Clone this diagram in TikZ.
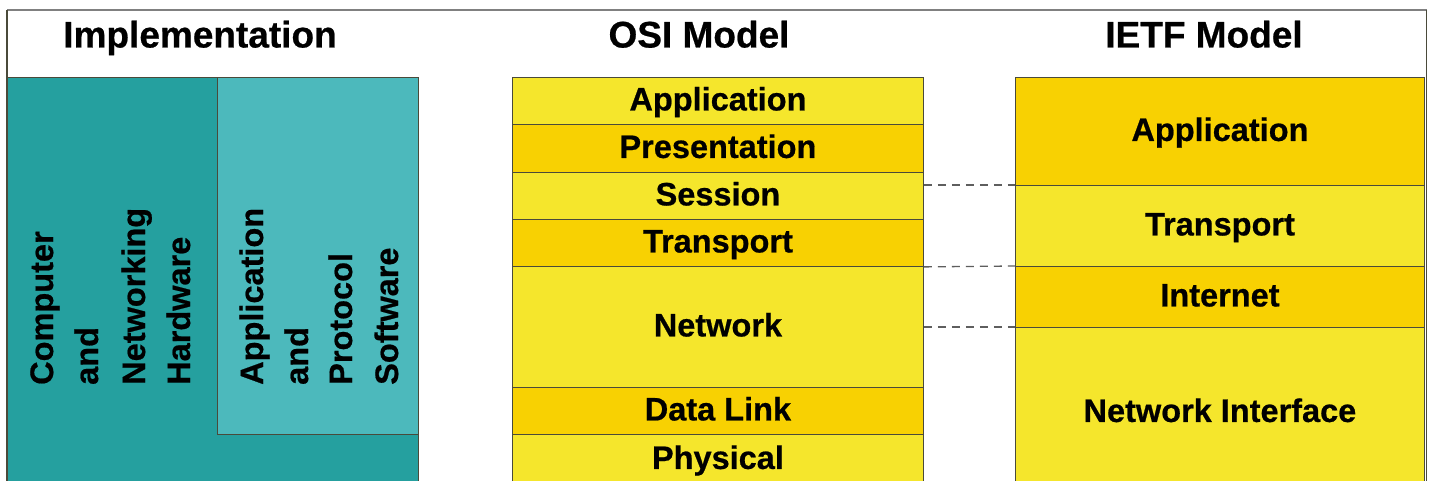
\documentclass[tikz,border=0pt]{standalone}
\usepackage{fontspec}
\setmainfont{Liberation Sans}[BoldFeatures={FakeBold=0.6}]
\definecolor{tealdark}{HTML}{25A09F}
\definecolor{teallight}{HTML}{4CB9BC}
\definecolor{ylight}{HTML}{F5E62C}
\definecolor{ydark}{HTML}{F8D102}
\definecolor{edge}{HTML}{4A4A3A}
\definecolor{framegray}{HTML}{808080}
\definecolor{dashgray}{HTML}{5E5E5E}
\begin{document}
\begin{tikzpicture}[x=1pt,y=-1pt,
  layerfont/.style={font=\bfseries\fontsize{32.5}{39}\selectfont},
  titlefont/.style={font=\bfseries\fontsize{37}{44}\selectfont},
  band/.style={draw=edge, line width=0.9pt, inner sep=0pt, anchor=north west,
    layerfont, text height=23pt, text depth=4pt},
  osiband/.style={band, minimum width=411pt},
  ietfband/.style={band, minimum width=409pt},
  lite/.style={fill=ylight},
  dark/.style={fill=ydark},
  implbox/.style={draw=edge, line width=0.9pt, inner sep=0pt, anchor=north west},
  vtext/.style={rotate=90, anchor=base west, inner sep=0pt, layerfont},
  title/.style={anchor=base, inner sep=0pt, titlefont},
  dashline/.style={draw=dashgray, line width=1.3pt, dash pattern=on 8pt off 6pt}]
\useasboundingbox (0,0) rectangle (1433,481);
\fill[white] (0,0) rectangle (1433,481);
% frame
\draw[framegray, line width=1.5pt] (7,10) -- (1427,10);
\draw[edge, line width=1.5pt] (7,10) -- (7,490);
\draw[edge, line width=1.5pt] (1426.5,10) -- (1426.5,490);
% titles
\node[title] (tImpl) at (200,47.5) {Implementation};
\node[title] (tOSI) at (699,47.5) {OSI Model};
\node[title] (tIETF) at (1204,47.5) {IETF Model};
% implementation
\node[implbox, fill=tealdark, minimum width=411pt, minimum height=420pt] (hw) at (7,77) {};
\node[implbox, fill=teallight, minimum width=201pt, minimum height=357pt] (sw) at (217,77) {};
\node[vtext] (hw1) at (53,385) {Computer};
\node[vtext] (hw2) at (98,385) {and};
\node[vtext] (hw3) at (145,385) {Networking};
\node[vtext] (hw4) at (190,385) {Hardware};
\node[vtext] (sw1) at (263,385) {Application};
\node[vtext] (sw2) at (308,385) {and};
\node[vtext] (sw3) at (352,385) {Protocol};
\node[vtext] (sw4) at (398,385) {Software};
% OSI model
\node[osiband, lite, minimum height=47pt] (osiApp) at (512,77) {Application};
\node[osiband, dark, minimum height=48pt] (osiPre) at (512,124) {Presentation};
\node[osiband, lite, minimum height=47pt] (osiSes) at (512,172) {Session};
\node[osiband, dark, minimum height=47pt] (osiTr) at (512,219) {Transport};
\node[osiband, lite, minimum height=121pt] (osiNet) at (512,266) {Network};
\node[osiband, dark, minimum height=47pt] (osiDL) at (512,387) {Data Link};
\node[osiband, lite, minimum height=50pt] (osiPh) at (512,434) {Physical};
% IETF model
\node[ietfband, dark, minimum height=108pt] (ietfApp) at (1015,77) {Application};
\node[ietfband, lite, minimum height=81pt] (ietfTr) at (1015,185) {Transport};
\node[ietfband, dark, minimum height=61pt] (ietfIn) at (1015,266) {Internet};
\node[ietfband, lite, minimum height=170pt] (ietfNI) at (1015,327) {Network Interface};
% correspondence lines
\draw[dashline] (osiSes.east |- ietfTr.north west) -- (ietfTr.north west);
\draw[dashline] (osiTr.south east) -- (ietfIn.north west);
\draw[dashline] (osiNet.east |- ietfNI.north west) -- (ietfNI.north west);
\end{tikzpicture}
\end{document}
